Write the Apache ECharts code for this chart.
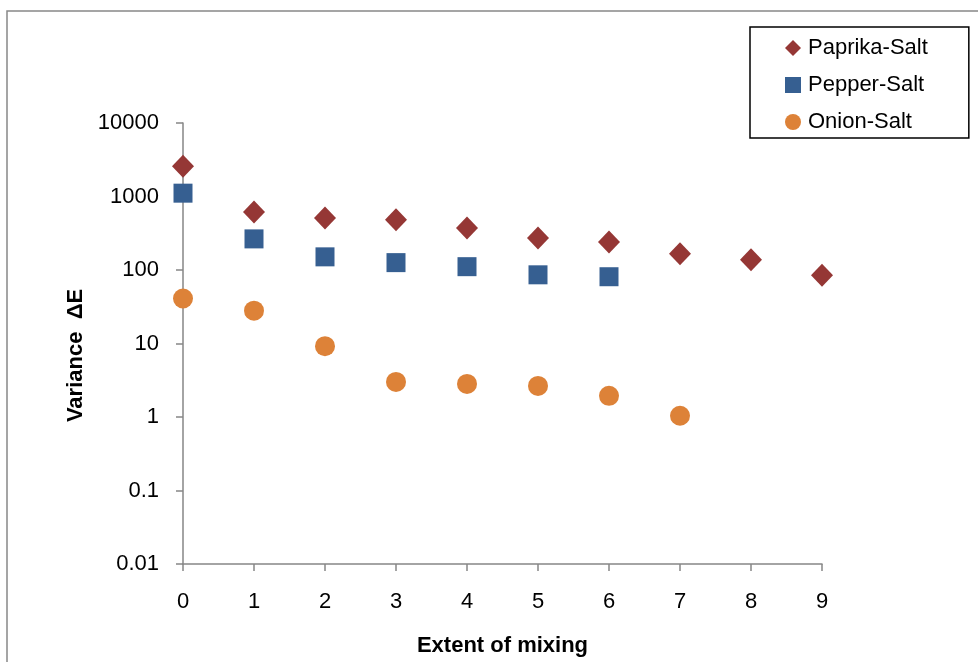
<!DOCTYPE html>
<html>
<head>
<meta charset="utf-8">
<script src="https://cdn.jsdelivr.net/npm/echarts@6/dist/echarts.min.js"></script>
<style>
html,body{margin:0;padding:0;background:#fff;}
#c{width:978px;height:662px;}
</style>
</head>
<body>
<div id="c"></div>
<script>
const xValues = [0, 1, 2, 3, 4, 5, 6, 7, 8, 9];
const paprikaSalt = [2570, 614, 509, 484, 373, 273, 241, 166, 138, 85];
const pepperSalt = [1110, 265, 151, 126, 111, 86, 81];
const onionSalt = [41, 28, 9.2, 3.0, 2.82, 2.65, 1.94, 1.04];
const yTickLabels = ['0.01', '0.1', '1', '10', '100', '1000', '10000'];
const seriesNames = ['Paprika-Salt', 'Pepper-Salt', 'Onion-Salt'];

const FONT = '"Liberation Sans", Arial, sans-serif';
const toPairs = arr => arr.map((v, i) => [xValues[i], v]);

const chart = echarts.init(document.getElementById('c'), null, {renderer: 'canvas'});
chart.setOption({
  animation: false,
  backgroundColor: '#ffffff',
  textStyle: {fontFamily: FONT},
  graphic: [{
    type: 'rect',
    shape: {x: 7, y: 11, width: 1000, height: 700},
    style: {fill: 'none', stroke: '#888888', lineWidth: 1.5},
    silent: true,
    z: -10
  }],
  grid: {left: 183, right: 156, top: 123, bottom: 95, containLabel: false},
  legend: {
    orient: 'vertical',
    left: 750,
    top: 27,
    data: seriesNames,
    itemWidth: 16,
    itemHeight: 16,
    itemGap: 13,
    padding: [9, 41, 4, 35],
    borderColor: '#000000',
    borderWidth: 1.5,
    textStyle: {fontFamily: FONT, fontSize: 22, color: '#000', lineHeight: 24, padding: [0, 0, 0, 2]}
  },
  xAxis: {
    type: 'value',
    min: 0,
    max: 9,
    interval: 1,
    name: 'Extent of mixing',
    nameLocation: 'middle',
    nameGap: 71,
    nameTextStyle: {fontFamily: FONT, fontSize: 22, fontWeight: 'bold', color: '#000'},
    axisLine: {show: true, onZero: false, lineStyle: {color: '#868686', width: 1.5}},
    axisTick: {show: true, length: 7, lineStyle: {color: '#868686', width: 1.5}},
    axisLabel: {margin: 27, fontFamily: FONT, fontSize: 22, color: '#000'},
    splitLine: {show: false}
  },
  yAxis: {
    type: 'log',
    logBase: 10,
    min: 0.01,
    max: 10000,
    name: 'Variance  ΔE',
    nameLocation: 'middle',
    nameGap: 95,
    nameTextStyle: {fontFamily: FONT, fontSize: 22, fontWeight: 'bold', color: '#000', padding: [0, 24, 0, 0]},
    axisLine: {show: true, lineStyle: {color: '#868686', width: 1.5}},
    axisTick: {show: true, length: 7, lineStyle: {color: '#868686', width: 1.5}},
    axisLabel: {
      margin: 24, fontFamily: FONT, fontSize: 22, color: '#000', padding: [3, 0, 0, 0],
      formatter: v => yTickLabels[Math.round(Math.log10(v)) + 2]
    },
    splitLine: {show: false}
  },
  series: [
    {
      name: seriesNames[0], type: 'scatter', symbol: 'diamond', symbolSize: [22, 23],
      itemStyle: {color: '#953735', opacity: 1}, data: toPairs(paprikaSalt), z: 3
    },
    {
      name: seriesNames[1], type: 'scatter', symbol: 'rect', symbolSize: 19,
      itemStyle: {color: '#365F91', opacity: 1}, data: toPairs(pepperSalt), z: 2
    },
    {
      name: seriesNames[2], type: 'scatter', symbol: 'circle', symbolSize: 20,
      itemStyle: {color: '#DD8238', opacity: 1}, data: toPairs(onionSalt), z: 2
    }
  ]
});
</script>
</body>
</html>
